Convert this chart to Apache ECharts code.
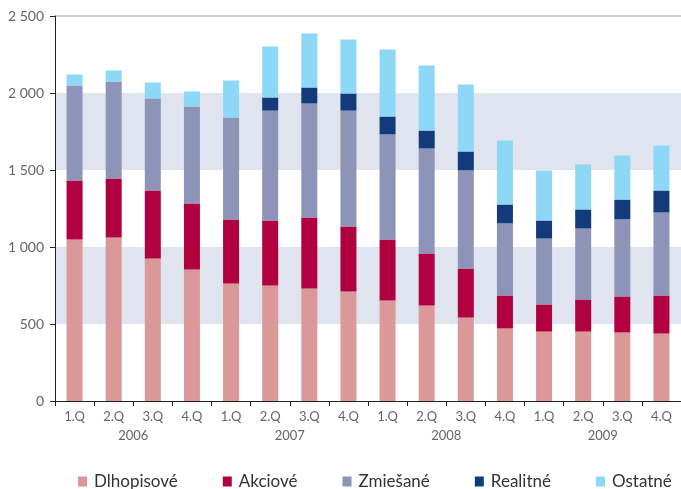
<!DOCTYPE html>
<html>
<head>
<meta charset="utf-8">
<script src="https://cdn.jsdelivr.net/npm/echarts@6/dist/echarts.min.js"></script>
<style>
  html, body { margin: 0; padding: 0; background: #fff; }
  #chart { width: 681px; height: 489px; }
</style>
</head>
<body>
<div id="chart"></div>
<script>
// quarters and years on the x axis
var quarters = ['1.Q', '2.Q', '3.Q', '4.Q', '1.Q', '2.Q', '3.Q', '4.Q',
                '1.Q', '2.Q', '3.Q', '4.Q', '1.Q', '2.Q', '3.Q', '4.Q'];
var years = ['2006', '2007', '2008', '2009'];

// fund volumes by type
var dlhopisove = [1049, 1062, 925, 854, 763, 750, 731, 711, 653, 620, 542, 471, 451, 451, 445, 438];
var akciove    = [383, 383, 442, 428, 416, 422, 461, 422, 396, 338, 318, 214, 176, 208, 234, 247];
var zmiesane   = [617, 630, 597, 630, 662, 714, 740, 753, 682, 682, 637, 468, 428, 461, 500, 539];
var realitne   = [0, 0, 0, 0, 0, 85, 104, 111, 116, 116, 123, 123, 117, 124, 129, 143];
var ostatne    = [71, 71, 104, 98, 240, 331, 350, 350, 435, 423, 435, 416, 325, 292, 286, 292];

var names = ['Dlhopisové', 'Akciové', 'Zmiešané', 'Realitné', 'Ostatné'];
var colors = ['#db9899', '#b0003f', '#8e94b8', '#133a7a', '#8dd7f7'];
var values = [dlhopisove, akciove, zmiesane, realitne, ostatne];

var font = 'Lato';

function spaceThousands(v) {
    return String(v).replace(/\B(?=(\d{3})+(?!\d))/g, ' ');
}

var chart = echarts.init(document.getElementById('chart'), null, { renderer: 'canvas' });

var option = {
    animation: false,
    color: colors,
    grid: {
        left: 55,
        top: 16,
        width: 634,
        height: 385,
        containLabel: false
    },
    legend: {
        data: names,
        left: 78,
        top: 473,
        padding: 0,
        icon: 'rect',
        itemWidth: 9,
        itemHeight: 10,
        itemGap: 45,
        textStyle: { fontFamily: font, fontSize: 17, color: '#333', padding: [0, 0, 0, 2] }
    },
    xAxis: [
        {
            type: 'category',
            data: quarters,
            axisLine: { lineStyle: { color: '#222', width: 1 } },
            axisTick: { show: true, length: 5, lineStyle: { color: '#222' } },
            axisLabel: { margin: 9, fontFamily: font, fontSize: 13, color: '#666' }
        },
        {
            type: 'category',
            data: years,
            position: 'bottom',
            axisLine: { show: false },
            axisTick: { show: false },
            axisLabel: { margin: 28, fontFamily: font, fontSize: 13, color: '#666' }
        }
    ],
    yAxis: {
        type: 'value',
        min: 0,
        max: 2500,
        interval: 500,
        axisLine: { show: true, lineStyle: { color: '#222', width: 1 } },
        axisTick: { show: true, length: 5, lineStyle: { color: '#222' } },
        axisLabel: {
            margin: 11,
            fontFamily: font,
            fontSize: 14,
            color: '#666',
            formatter: spaceThousands
        },
        splitLine: {
            show: true,
            lineStyle: {
                width: 2,
                color: ['transparent', 'transparent', 'transparent', 'transparent', 'transparent', '#d0d0d0']
            }
        },
        splitArea: {
            show: true,
            areaStyle: { color: ['rgba(0,0,0,0)', '#dfe4ee'] }
        }
    },
    series: names.map(function (name, i) {
        return {
            name: name,
            type: 'bar',
            stack: 'total',
            barWidth: 16,
            xAxisIndex: 0,
            data: values[i]
        };
    })
};

chart.setOption(option);
</script>
</body>
</html>
